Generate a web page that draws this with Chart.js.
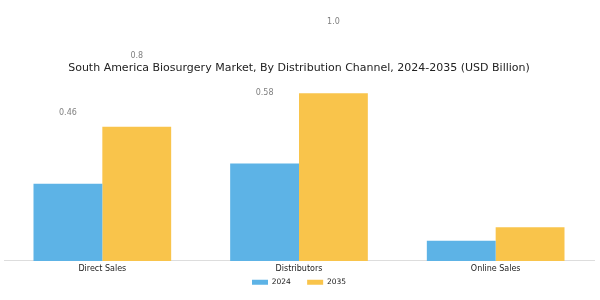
<!DOCTYPE html>
<html>
<head>
<meta charset="utf-8">
<script src="https://cdn.jsdelivr.net/npm/chart.js@4"></script>
<style>
  html, body { margin: 0; padding: 0; background: #fff; }
  #wrap { width: 600px; height: 300px; }
</style>
</head>
<body>
<div id="wrap"><canvas id="marketChart"></canvas></div>
<script>
const channels = ['Direct Sales', 'Distributors', 'Online Sales'];
const values2024 = [0.46, 0.58, 0.12];
const values2035 = [0.8, 1.0, 0.2];

// value labels float well above the bars in the reference
const floatingLabels = {
    id: 'floatingLabels',
    afterDatasetsDraw(chart) {
        const c = chart.ctx;
        c.save();
        c.font = '8px "DejaVu Sans", sans-serif';
        c.fillStyle = '#808080';
        c.textAlign = 'center';
        c.textBaseline = 'middle';
        chart.data.datasets.forEach((ds, i) => {
            chart.getDatasetMeta(i).data.forEach((bar, j) => {
                const v = ds.data[j];
                if (v < 0.3) return;
                c.fillText(String(v === 1 ? '1.0' : v), bar.x, bar.y - 71);
            });
        });
        c.restore();
    }
};

const ctx = document.getElementById('marketChart').getContext('2d');
const marketChart = new Chart(ctx, {
    type: 'bar',
    data: {
        labels: channels,
        datasets: [{
            label: '2024',
            data: values2024,
            backgroundColor: '#5DB3E6',
            categoryPercentage: 0.7,
            barPercentage: 1.0
        }, {
            label: '2035',
            data: values2035,
            backgroundColor: '#F9C44B',
            categoryPercentage: 0.7,
            barPercentage: 1.0
        }]
    },
    options: {
        responsive: true,
        maintainAspectRatio: false,
        animation: false,
        layout: { padding: { top: 55, left: 4, right: 6, bottom: 4 } },
        plugins: {
            title: {
                display: true,
                text: 'South America Biosurgery Market, By Distribution Channel, 2024-2035 (USD Billion)',
                color: '#222',
                font: { family: '"DejaVu Sans", sans-serif', size: 11, weight: 'normal' },
                padding: { top: 7, bottom: 4 }
            },
            legend: {
                position: 'bottom',
                labels: {
                    boxWidth: 16,
                    boxHeight: 5,
                    color: '#222',
                    font: { family: '"DejaVu Sans", sans-serif', size: 7.5 },
                    padding: 2,
                    // wider gap between items without making the legend taller
                    generateLabels(chart) {
                        const items = Chart.defaults.plugins.legend.labels.generateLabels(chart);
                        items.forEach((it, i) => {
                            if (i < items.length - 1) it.text = it.text + '      ';
                        });
                        return items;
                    }
                }
            },
            tooltip: { enabled: false }
        },
        scales: {
            x: {
                grid: { display: false, drawTicks: false },
                border: { color: '#ddd' },
                ticks: {
                    color: '#222',
                    font: { family: '"DejaVu Sans", sans-serif', size: 8 },
                    padding: 3
                }
            },
            y: {
                display: false,
                beginAtZero: true,
                max: 1.083
            }
        }
    },
    plugins: [floatingLabels]
});
</script>
</body>
</html>
